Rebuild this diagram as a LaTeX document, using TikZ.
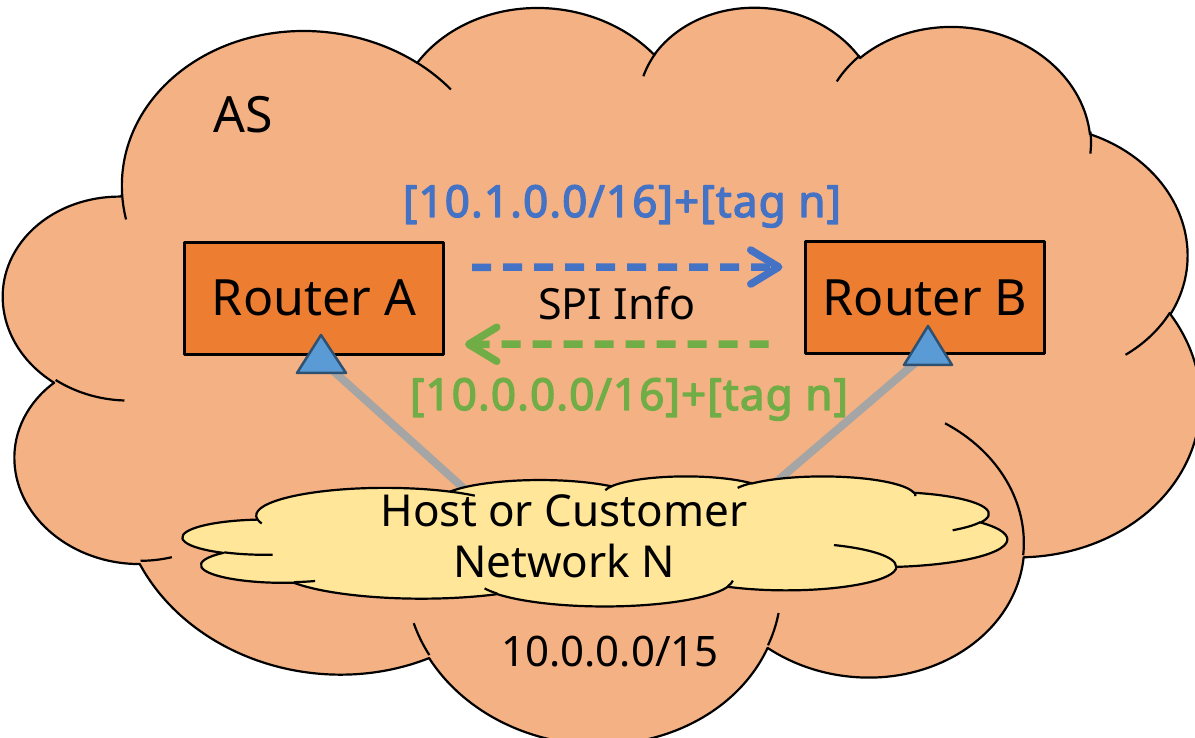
\documentclass[tikz,border=0pt]{standalone}
\usepackage{fontspec}
\setmainfont{Noto Sans}
\newfontfamily\spibold{Noto Sans}[FakeBold=3, LetterSpace=2.5]
\usetikzlibrary{arrows.meta}
\definecolor{asfill}{HTML}{F4B183}
\definecolor{hostfill}{HTML}{FFE699}
\definecolor{routerfill}{HTML}{ED7D31}
\definecolor{portfill}{HTML}{5B9BD5}
\definecolor{portline}{HTML}{2F5171}
\definecolor{linkgray}{HTML}{A5A5A5}
\definecolor{spiblue}{HTML}{4472C4}
\definecolor{spigreen}{HTML}{70AD47}

% one bump: x radius, y radius, start angle, sweep (angles as seen on the bump)
\newcommand\cloudarc[4]{%
  \pgfextra{%
    \pgfmathparse{atan2((#1)*sin(#3),(#2)*cos(#3))}\global\let\arcst\pgfmathresult
    \pgfmathparse{mod(atan2((#1)*sin(#3+#4),(#2)*cos(#3+#4))-(\arcst)+720,360)}\global\let\arcsw\pgfmathresult}%
  arc[x radius=#1, y radius=#2, start angle=\arcst, delta angle=\arcsw]}

% cloud outline in a 432 x 432 box (y down)
\newcommand\cloudoutline{%
  (39.00,143.70) \cloudarc{67.53}{91.90}{-190.4875}{123.7805}
  \cloudarc{53.33}{72.67}{-144.1024}{89.9452}
  \cloudarc{43.65}{59.45}{-145.8079}{99.7230}
  \cloudarc{48.57}{65.95}{-130.9861}{117.2417}
  \cloudarc{53.33}{72.73}{-78.7089}{109.0269}
  \cloudarc{67.75}{92.20}{-46.2673}{130.2690}
  \cloudarc{57.85}{78.67}{0.6250}{114.0333}
  \cloudarc{67.52}{92.15}{22.4516}{115.1726}
  \cloudarc{77.20}{105.43}{66.2426}{75.7110}
  \cloudarc{43.60}{59.18}{-274.9421}{146.7356}
  \cloudarc{43.45}{59.45}{-246.8285}{152.5189}
  -- cycle}
% the short inner strokes
\newcommand\cloudinner{%
  (46.93,261.77) \cloudarc{43.45}{59.45}{86.7420}{26.4295}
  (69.28,348.99) \cloudarc{43.60}{59.18}{73.6105}{11.4475}
  (164.78,390.90) \cloudarc{67.52}{92.15}{137.6241}{14.0811}
  (288.27,347.51) \cloudarc{67.52}{92.15}{6.4533}{15.9984}
  (341.29,229.54) \cloudarc{57.85}{78.67}{-70.2924}{70.9174}
  (417.98,153.54) \cloudarc{53.33}{72.73}{30.3180}{27.7515}
  (383.24,54.26) \cloudarc{48.57}{65.95}{-13.7443}{14.8589}
  (290.78,39.52) \cloudarc{48.57}{65.95}{-149.1815}{18.1954}
  (221.41,47.20) \cloudarc{43.65}{59.45}{-163.4943}{17.6864}
  (140.00,51.92) \cloudarc{67.53}{91.90}{-66.7070}{12.3194}
  (41.27,157.89) \cloudarc{67.53}{91.90}{157.6544}{11.8582}}

\begin{document}
\begin{tikzpicture}[x=1pt, y=1pt, line join=round]
  \tikzset{cloud line/.style={draw=black, line width=2.2pt},
    router box/.style={draw=black, line width=3pt, fill=routerfill, font=\fontsize{50}{60}\selectfont},
    link line/.style={linkgray, line width=8pt},
    port mark/.style={fill=portfill, draw=portline, line width=2.5pt},
    spi arrow/.style={line width=7.5pt, dash pattern=on 19pt off 12pt, -{Straight Barb[length=28pt, width=34pt, round]}},
    spi text/.style={font=\spibold\fontsize{44}{52}\selectfont, anchor=base}}
  \useasboundingbox (0,0) rectangle (1195,738);
  \clip (0,0) rectangle (1195,738);
  % the AS
  \begin{scope}[shift={(600.3,371.5)}, rotate=-5.5, xscale=2.782407, yscale=-1.736111, shift={(-216,-216)}]
    \filldraw[cloud line, fill=asfill] \cloudoutline;
    \draw[cloud line] \cloudinner;
  \end{scope}
  \node[anchor=base, font=\fontsize{50}{60}\selectfont] (as) at (243,605) {AS};
  % routers
  \node[router box, minimum width=259pt, minimum height=112.5pt] (ra) at (314,439.7) {Router A};
  \node[router box, minimum width=239pt, minimum height=112pt] (rb) at (925,440) {Router B};
  % SPI exchange
  \node[spi text, spiblue] (upd) at (622,521) {[10.1.0.0/16]+[tag n]};
  \node[anchor=base, font=\fontsize{43}{52}\selectfont] (spi) at (617,418) {SPI Info};
  \node[spi text, spigreen] (back) at (629,328) {[10.0.0.0/16]+[tag n]};
  \draw[spi arrow, spiblue, shorten <=27pt, shorten >=21.5pt] ([yshift=31pt]ra.east) -- ([yshift=31pt]rb.west);
  \draw[spi arrow, spigreen, shorten <=35.5pt, shorten >=20pt] ([yshift=-46pt]rb.west) -- ([yshift=-46pt]ra.east);
  % attachment links
  \coordinate (pa) at (321.5,377.7);
  \coordinate (pb) at (928,386);
  \coordinate (na) at (470,244);
  \coordinate (nb) at (762,244);
  \draw[link line] (pa) -- (na);
  \draw[link line] (pb) -- (nb);
  % customer network
  \begin{scope}[shift={(595,197)}, xscale=1.907407, yscale=-0.300926, shift={(-216,-216)}]
    \filldraw[cloud line, fill=hostfill] \cloudoutline;
    \draw[cloud line] \cloudinner;
  \end{scope}
  \filldraw[port mark] (297,365) -- (346,365) -- (321,403) -- cycle;
  \filldraw[port mark] (904,373) -- (952,373) -- (928,412) -- cycle;
  \node[align=center, font=\fontsize{44}{51.3}\selectfont] (host) at (564,201.4) {Host or Customer\\Network N};
  \node[anchor=base, font=\fontsize{42}{50}\selectfont] (pfx) at (610,71) {10.0.0.0/15};
\end{tikzpicture}
\end{document}
